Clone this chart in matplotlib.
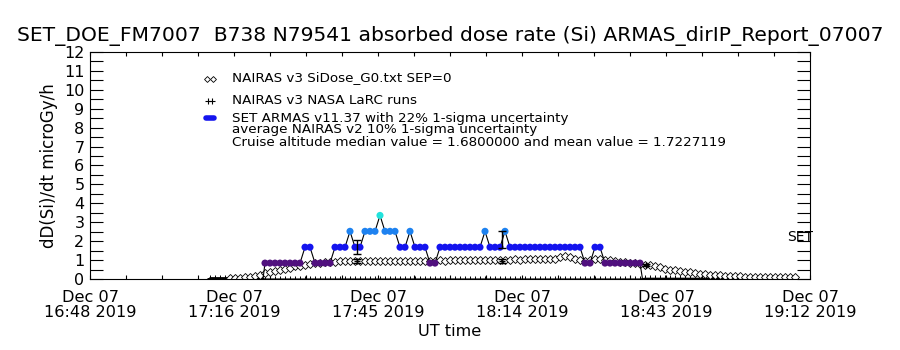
import matplotlib
matplotlib.use("Agg")
import matplotlib.pyplot as plt
import numpy as np

plt.rcParams['font.family'] = ['DejaVu Sans']

# ---------------- data ----------------
title = "SET_DOE_FM7007  B738 N79541 absorbed dose rate (Si) ARMAS_dirIP_Report_07007"
ylabel = "dD(Si)/dt microGy/h"
xlabel = "UT time"

# x axis in minutes after Dec 07 2019 16:48 UT
xtick_pos = [0.0, 28.8, 57.6, 86.4, 115.2, 144.0]
xtick_labels = ["Dec 07\n16:48 2019", "Dec 07\n17:16 2019", "Dec 07\n17:45 2019",
                "Dec 07\n18:14 2019", "Dec 07\n18:43 2019", "Dec 07\n19:12 2019"]
ytick_pos = list(range(0, 13))

legend_lines = ["NAIRAS v3 SiDose_G0.txt SEP=0",
                "NAIRAS v3 NASA LaRC runs",
                "SET ARMAS v11.37 with 22% 1-sigma uncertainty",
                "average NAIRAS v2 10% 1-sigma uncertainty",
                "Cruise altitude median value = 1.6800000 and mean value = 1.7227119"]

# ARMAS dose rate (1-min samples, minutes after 16:48)
armas_t = np.arange(35, 111)
armas_v = [0.84, 0.84, 0.84, 0.84, 0.84, 0.84, 0.84, 0.84,        # 35-42
           1.68, 1.68,                                            # 43-44
           0.84, 0.84, 0.84, 0.84,                                # 45-48
           1.68, 1.68, 1.68,                                      # 49-51
           2.52,                                                  # 52
           1.68, 1.68,                                            # 53-54
           2.52, 2.52, 2.52,                                      # 55-57
           3.36,                                                  # 58
           2.52, 2.52, 2.52,                                      # 59-61
           1.68, 1.68,                                            # 62-63
           2.52,                                                  # 64
           1.68, 1.68, 1.68,                                      # 65-67
           0.84, 0.84,                                            # 68-69
           1.68, 1.68, 1.68, 1.68, 1.68, 1.68, 1.68, 1.68, 1.68,  # 70-78
           2.52,                                                  # 79
           1.68, 1.68, 1.68,                                      # 80-82
           2.52,                                                  # 83
           1.68, 1.68, 1.68, 1.68, 1.68, 1.68, 1.68, 1.68, 1.68,
           1.68, 1.68, 1.68, 1.68, 1.68, 1.68,                    # 84-98
           0.84, 0.84,                                            # 99-100
           1.68, 1.68,                                            # 101-102
           0.84, 0.84, 0.84, 0.84, 0.84, 0.84, 0.84, 0.84]        # 103-110
armas_takeoff = 34.6
armas_landing = 110.5

# ARMAS uncertainty bars (22%)
armas_err_t = [53.4, 82.4]
armas_err_v = [1.68, 2.10]
armas_err_e = [0.37, 0.46]

# NAIRAS v3 SiDose (1-min samples)
nairas_t = np.arange(28, 142)
nairas_v = [0.03, 0.05, 0.07, 0.10, 0.13, 0.17, 0.22,
            0.30, 0.36, 0.42, 0.48, 0.54, 0.60, 0.66, 0.71,
            0.76, 0.80, 0.84, 0.87, 0.89, 0.91, 0.92,
            0.93, 0.94, 0.93, 0.94, 0.94, 0.93, 0.94, 0.95, 0.94, 0.95, 0.95,
            0.94, 0.95, 0.96, 0.95, 0.96, 0.96,
            0.96, 0.97, 0.97, 0.98, 0.97, 0.98, 0.99, 0.98, 0.99, 1.00, 0.99,
            1.00, 1.01, 1.00, 1.01, 1.02, 1.01, 1.02, 1.03, 1.02, 1.03, 1.04,
            1.03, 1.04, 1.05, 1.04, 1.06,
            1.15, 1.19, 1.17,
            1.05, 0.98, 0.97, 1.00, 1.03, 1.04,
            1.02, 1.00, 0.96, 0.92, 0.88, 0.85,
            0.82, 0.79, 0.76, 0.73,
            0.68, 0.62, 0.55, 0.48,
            0.46, 0.43, 0.39, 0.35,
            0.31, 0.28, 0.25, 0.23,
            0.21, 0.19, 0.17, 0.16,
            0.15, 0.14, 0.13, 0.12,
            0.12, 0.11, 0.11, 0.10, 0.10, 0.09, 0.09, 0.08, 0.08]

# NAIRAS v3 NASA LaRC runs with 10% uncertainty
larc_t = [53.4, 82.4, 111.2]
larc_v = [0.94, 0.94, 0.74]
larc_e = [0.09, 0.09, 0.07]

# ARMAS raw track along the bottom
base_t = np.arange(24, 142)
base_v = [0.07] * 11 + [0.0] * 76 + [0.04] * 31

# ---------------- styles ----------------
level_colors = {0.84: '#50107e', 1.68: '#1414ee', 2.52: '#1e82f0', 3.36: '#22e2dc'}

fig = plt.figure(figsize=(9, 3.5), dpi=100)
ax = fig.add_axes([0.1, 0.2029, 0.8, 0.6486])

ax.set_xlim(0, 144)
ax.set_ylim(0, 12)

# base track
ax.plot(base_t, base_v, color='black', lw=0.8, marker='+', ms=4, mew=0.7)

# NAIRAS diamonds
ax.plot(nairas_t, nairas_v, ls='none', marker='D', ms=3.6, mfc='white', mec='black', mew=0.6)

# ARMAS connecting line
line_t = np.concatenate([[armas_takeoff], armas_t, [armas_landing]])
line_v = np.concatenate([[0.0], armas_v, [0.0]])
ax.plot(line_t, line_v, color='black', lw=0.8, zorder=3)
cols = [level_colors[v] for v in armas_v]
ax.scatter(armas_t, armas_v, s=26, c=cols, marker='o', linewidths=0, zorder=4)

# error bars
ax.errorbar(armas_err_t, armas_err_v, yerr=armas_err_e, fmt='none', ecolor='black',
            elinewidth=1, capsize=2.6, capthick=1, zorder=5)
ax.errorbar(larc_t, larc_v, yerr=larc_e, fmt='+', color='black', ms=5,
            elinewidth=1, capsize=2.6, capthick=1, zorder=5)

# axes styling
for s in ax.spines.values():
    s.set_linewidth(0.8)
ax.set_xticks(xtick_pos)
ax.set_xticklabels(xtick_labels, fontsize=11.6, linespacing=1.0)
ax.set_xticks(np.arange(0, 144.1, 7.2), minor=True)
ax.set_yticks(ytick_pos)
ax.set_yticklabels([str(v) for v in ytick_pos], fontsize=11.5)
ax.set_yticks(np.arange(0.5, 12, 1.0), minor=True)
ax.tick_params(axis='both', which='both', direction='in', top=True, right=True, width=0.8)
ax.tick_params(axis='y', which='both', length=9.7, pad=4)
ax.tick_params(axis='x', which='both', length=3.2, pad=8)

ax.set_xlabel(xlabel, fontsize=11.6, labelpad=3)
ax.set_ylabel(ylabel, fontsize=12, labelpad=4)
fig.text(0.5, 1 - 36 / 350, title, ha='center', va='center', fontsize=14.6)

# legend block
tx = 232 / 900
ys = [78, 100, 118, 129.5, 142.5]
for txt, y in zip(legend_lines, ys):
    fig.text(tx, 1 - y / 350, txt, ha='left', va='center', fontsize=9.7)
# legend symbols (axes-fraction placement)
sx = (210 - 90) / 720
def ay(y):
    return (279 - y) / 227
ax.plot([sx - 0.004, sx + 0.004], [ay(79)] * 2, transform=ax.transAxes, ls='none',
        marker='D', ms=3, mfc='white', mec='black', mew=0.6, clip_on=False)
ax.plot([sx - 0.003, sx + 0.003], [ay(101)] * 2, transform=ax.transAxes, ls='none',
        marker='+', ms=5, color='black', mew=0.8, clip_on=False)
ax.plot([sx - 0.006, sx + 0.006], [ay(118)] * 2, transform=ax.transAxes,
        color='#1414ee', lw=4, solid_capstyle='round', clip_on=False)

fig.text(787 / 900, 1 - 237 / 350, "SET", ha='left', va='center', fontsize=10)

fig.savefig("out.png", dpi=100)
